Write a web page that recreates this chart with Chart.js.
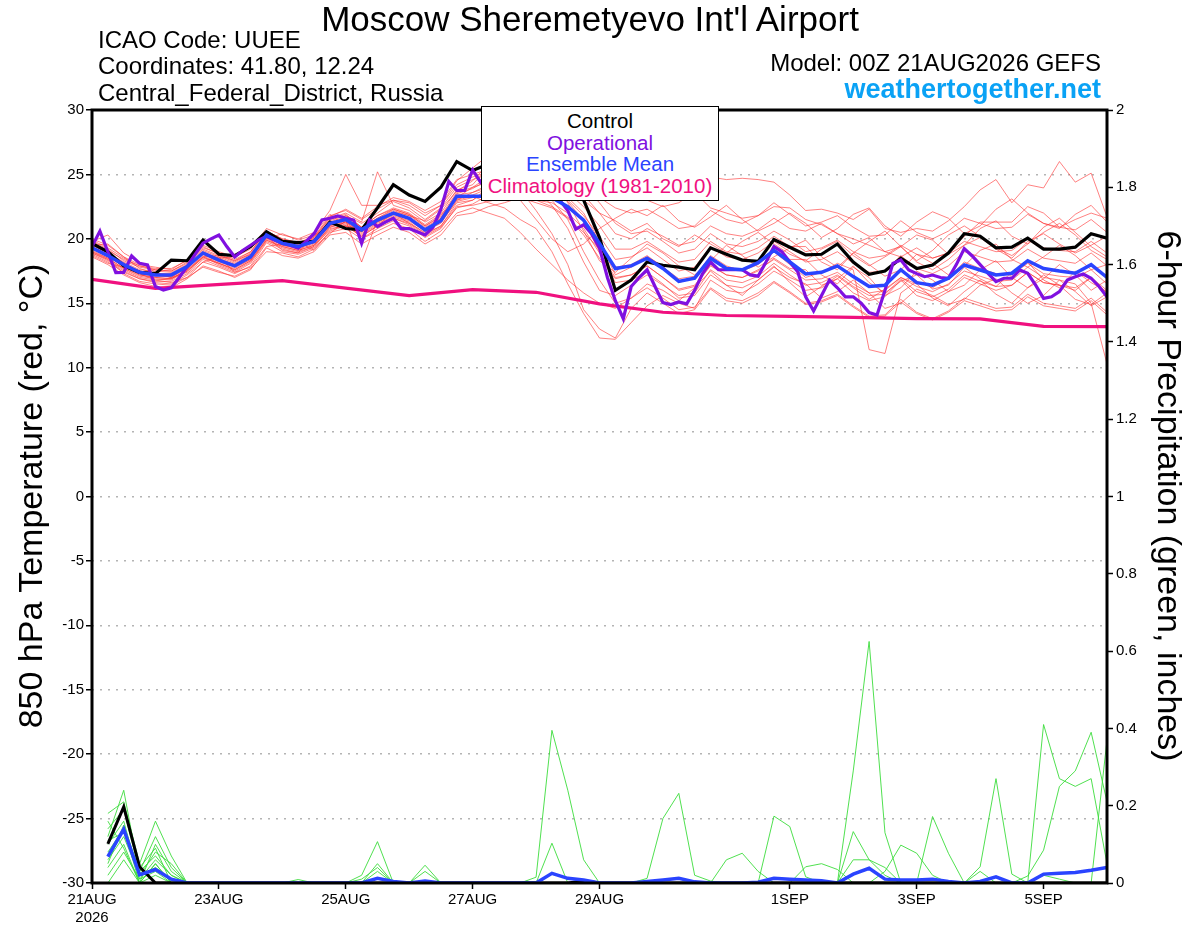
<!DOCTYPE html>
<html><head><meta charset="utf-8">
<script src="https://cdn.jsdelivr.net/npm/chart.js@4.4.1/dist/chart.umd.min.js"></script>
<style>
html,body{margin:0;padding:0;background:#fff;}
#wrap{position:relative;width:1200px;height:927px;overflow:hidden;font-family:"Liberation Sans",Arial,sans-serif;background:#fff;}
canvas{position:absolute;left:0;top:0;}
.t{position:absolute;white-space:nowrap;color:#000;}
#legend{position:absolute;left:481px;top:106px;width:236px;height:90px;border:1.5px solid #000;background:#fff;text-align:center;font-size:20.5px;line-height:21.6px;padding-top:3px;box-sizing:content-box;}
.rot{position:absolute;white-space:nowrap;text-align:center;font-size:34px;line-height:40px;height:40px;width:700px;}
</style></head>
<body><div id="wrap">
<canvas id="c" width="1200" height="927"></canvas>
<div class="t" style="left:0;width:1180px;top:0;text-align:center;font-size:35px;line-height:38px;">Moscow Sheremetyevo Int'l Airport</div>
<div class="t" style="left:98px;top:26px;font-size:24px;line-height:28px;">ICAO Code: UUEE</div>
<div class="t" style="left:98px;top:52px;font-size:24px;line-height:28px;">Coordinates: 41.80, 12.24</div>
<div class="t" style="left:98px;top:79px;font-size:24px;line-height:28px;">Central_Federal_District, Russia</div>
<div class="t" style="right:99px;top:49px;font-size:24px;line-height:28px;text-align:right;">Model: 00Z 21AUG2026 GEFS</div>
<div class="t" style="right:99px;top:74px;font-size:27px;line-height:30px;font-weight:bold;color:#0aa2f5;text-align:right;">weathertogether.net</div>
<div id="legend">
<div style="color:#000">Control</div>
<div style="color:#8010e0">Operational</div>
<div style="color:#2a44ff">Ensemble Mean</div>
<div style="color:#f0107f">Climatology (1981-2010)</div>
</div>
<div class="rot" style="left:-320px;top:476px;transform:rotate(-90deg);">850 hPa Temperature (red, °C)</div>
<div class="rot" style="left:820px;top:476px;transform:rotate(90deg);">6-hour Precipitation (green, inches)</div>
</div>
<script>
// ---------- DATA ----------
const HOURS6 = Array.from({length:65},(_,i)=>i*6);     // 0..384 h, 6-hourly
const HOURS3 = Array.from({length:129},(_,i)=>i*3);    // operational, 3-hourly
const TICK_HOURS  = [0,48,96,144,192,264,312,360];
const TICK_LABELS = ['21AUG','23AUG','25AUG','27AUG','29AUG','1SEP','3SEP','5SEP'];
const TICK_SUB    = ['2026','','','','','','',''];

const controlT = [19.65,19.0,17.9,17.4,17.3,18.35,18.3,19.9,18.8,18.7,
  19.4,20.55,19.8,19.7,19.8,21.3,20.8,20.7,22.4,24.2,
  23.4,22.9,24.0,26.0,25.3,25.8,26.0,26.2,25.8,25.2,
  24.3,23.0,20.1,16.0,16.8,18.2,17.95,17.8,17.6,19.3,
  18.8,18.35,18.25,19.95,19.35,18.75,18.8,19.6,18.2,17.25,
  17.5,18.5,17.7,17.97,18.9,20.4,20.2,19.3,19.35,20.05,
  19.2,19.2,19.35,20.4,20.05];
const meanT = [19.3,18.7,18.0,17.4,17.2,17.2,17.85,18.9,18.35,17.9,
  18.6,20.3,19.65,19.4,19.8,21.2,21.5,20.7,21.46,22.0,
  21.6,20.7,21.4,23.3,23.3,23.3,23.5,23.6,23.4,23.2,
  22.5,21.45,19.65,17.7,17.9,18.5,17.7,16.7,16.95,18.5,
  17.7,17.6,18.15,19.1,18.2,17.27,17.4,17.9,17.07,16.3,
  16.4,17.6,16.6,16.4,16.94,17.97,17.58,17.2,17.33,18.3,
  17.7,17.5,17.33,18.0,17.0];
const operT = [19.4,20.6,19.0,17.37,17.4,18.67,18.1,17.97,16.3,16.03,
  16.2,17.0,17.84,18.8,19.66,20.0,20.3,19.4,18.6,19.1,
  19.5,19.9,20.2,19.9,19.66,19.5,19.27,19.8,20.4,21.46,
  21.6,21.77,21.6,21.46,19.66,21.46,20.95,21.3,21.6,20.8,
  20.8,20.55,20.3,20.9,22.3,24.45,23.75,23.75,25.35,24.4,
  25.0,25.6,26.0,25.8,25.4,25.0,24.6,24.2,23.8,23.0,
  22.2,20.75,21.1,20.4,19.3,17.0,15.2,13.8,16.3,17.0,
  17.6,16.3,15.05,14.9,15.1,14.95,16.0,17.3,18.2,17.6,
  17.6,17.6,17.6,17.2,17.1,18.2,19.4,19.0,18.2,17.45,
  15.5,14.4,15.6,16.8,16.2,15.5,15.5,15.0,14.27,14.09,
  16.0,18.1,18.36,17.58,17.3,17.06,17.19,17.0,16.94,18.0,
  19.24,18.67,18.0,17.32,16.68,16.94,16.94,17.58,17.32,16.4,
  15.38,15.5,15.9,16.8,17.06,17.27,16.94,16.3,15.5];
const climHours = [0,24,72,120,144,168,192,216,240,264,288,312,336,360,384];
const climT = [16.85,16.15,16.75,15.6,16.05,15.85,14.95,14.3,14.05,13.98,13.9,13.8,13.78,13.2,13.18];

// ensemble members, 850 hPa temperature
const mem01 = [19.8,19.2,18.3,17.8,17.6,17.5,18.2,19.3,18.9,18.4,19.0,20.6,20.0,19.7,20.2,
  21.8,22.2,21.5,22.3,23.0,22.6,21.8,22.6,24.2,24.8,25.2,26.1,25.8,25.4,25.6,25.3,
  25.2,25.3,25.2,25.3,25.2,25.1,25.0,24.9,24.8,24.6,24.7,24.6,24.4,23.4,
  22.2,22.3,22.0,21.5,22.3,20.8,20.5,20.8,20.6,21.4,22.5,23.8,24.6,22.8,24.2,23.95,26.0,24.4,25.1,21.7];
const mem02 = [19.0,18.4,17.6,17.0,16.8,16.9,17.5,18.6,18.0,17.5,18.2,19.9,19.3,19.0,19.4,
  20.8,21.0,20.2,21.0,21.6,21.2,20.3,21.0,22.8,23.0,24.0,24.5,25.0,24.8,24.0,23.5,
  23.6,23.9,24.2,23.4,23.0,22.5,22.8,23.6,22.4,22.0,21.6,21.8,22.5,22.4,
  21.5,21.1,20.4,20.0,19.5,19.0,18.6,19.3,18.5,18.9,20.2,21.3,21.3,21.3,22.5,22.0,20.9,21.5,22.0,21.6];
const mem03 = [19.5,18.9,18.2,17.6,17.5,17.4,18.0,19.1,18.6,18.1,18.8,20.4,19.9,19.5,20.0,
  21.5,21.9,20.9,21.8,22.4,22.0,21.1,21.9,23.0,23.3,22.8,22.4,21.5,20.8,19.0,16.5,
  14.2,12.3,12.2,13.5,14.8,15.6,15.0,14.6,16.8,16.0,15.8,16.5,17.5,16.8,
  16.0,16.2,16.9,15.8,15.2,15.5,16.8,15.6,15.2,15.9,17.0,16.5,16.0,16.4,17.4,16.6,16.4,16.0,17.0,15.8];
const mem04 = [19.2,18.6,17.9,17.2,17.0,16.9,17.6,18.7,18.1,17.7,18.4,20.1,19.5,19.2,19.6,
  21.0,21.3,20.6,21.3,21.8,21.4,20.6,21.2,23.0,23.6,24.2,23.8,24.4,24.0,23.7,23.2,
  22.0,19.8,17.2,17.8,18.6,17.9,16.6,17.0,18.7,17.9,17.5,18.0,19.0,18.0,
  17.0,17.4,18.1,17.6,11.4,11.1,15.8,16.7,16.2,17.0,18.2,17.7,17.3,17.2,18.1,17.3,17.1,17.0,17.6,16.5];
const mem05 = [18.8,18.2,17.4,16.9,16.6,16.5,17.2,18.2,17.8,17.3,17.9,19.7,19.0,18.8,19.3,
  20.5,20.8,20.0,20.8,21.4,21.0,20.1,20.8,22.5,22.6,22.9,23.2,23.6,23.0,22.8,22.0,
  20.8,18.9,17.0,17.2,17.9,17.0,16.0,16.3,17.9,17.2,17.0,17.6,18.4,17.6,
  16.8,16.9,17.4,16.5,15.8,16.0,17.0,16.3,15.9,16.5,17.5,17.1,16.7,16.8,17.8,17.0,16.8,16.5,15.0,10.3];
const mem06 = [20.0,19.5,18.6,18.0,17.8,17.6,18.4,19.5,19.0,18.6,19.2,20.8,20.3,20.0,20.5,
  22.2,25.0,22.6,22.6,23.0,22.8,22.0,22.6,24.5,25.5,26.5,27.0,26.2,25.6,25.0,24.6,
  24.0,22.8,21.2,20.4,20.6,19.8,18.9,19.2,20.4,19.6,19.4,19.8,20.6,19.9,
  19.0,19.3,19.9,19.0,18.5,18.7,19.5,18.8,18.5,18.9,19.8,19.4,19.0,19.1,20.0,19.3,19.1,19.0,19.8,18.9];
const mem07 = [18.6,18.0,17.2,16.6,16.3,16.2,16.9,17.9,17.5,17.0,17.6,19.3,18.7,18.5,19.0,
  20.3,20.5,19.6,20.3,20.9,20.5,19.6,20.3,21.8,22.0,22.5,22.8,23.2,22.8,22.4,21.6,
  20.5,19.2,17.8,18.0,18.7,17.8,16.9,17.1,18.6,17.8,17.6,18.2,19.2,18.4,
  18.4,17.2,16.5,17.8,17.0,15.6,16.2,17.5,16.8,15.9,16.4,17.6,18.3,17.0,16.2,16.9,18.0,17.2,16.0,16.8];
const mem08 = [19.4,18.8,18.0,17.5,17.3,17.2,17.8,18.8,18.3,17.9,18.5,20.2,19.6,19.3,19.7,
  21.2,21.6,20.8,21.6,22.2,21.8,20.9,21.6,23.5,23.9,24.6,25.2,24.8,24.2,23.8,22.9,
  21.4,19.0,16.6,16.8,17.4,16.5,15.4,15.6,17.2,16.4,16.2,16.8,17.8,17.0,
  16.5,15.4,15.9,16.8,15.8,14.6,15.0,16.1,15.6,14.9,15.3,16.4,16.9,15.8,15.0,15.6,16.8,15.9,14.8,15.5];
const mem09 = [19.1,18.5,17.7,17.1,16.9,16.8,17.5,18.5,18.1,17.6,18.3,20.0,19.4,19.1,19.5,
  20.9,21.2,20.4,21.2,21.7,21.3,20.4,21.0,22.6,23.0,23.8,24.3,24.6,24.0,23.0,21.5,
  19.0,16.8,15.0,15.4,16.2,15.4,14.5,14.7,16.2,15.4,15.2,15.8,16.7,15.9,
  15.0,15.2,15.7,14.8,14.0,14.1,15.3,14.3,13.8,14.4,15.4,15.0,14.6,14.7,15.7,15.0,14.8,14.6,15.4,14.3];
const mem10 = [19.7,19.1,18.4,17.9,17.7,17.7,18.3,19.4,18.8,18.3,19.0,20.6,20.0,19.7,20.1,
  21.6,22.0,21.3,25.2,22.6,22.2,21.3,22.0,23.8,24.2,25.6,26.4,26.8,26.0,25.2,24.3,
  23.4,22.0,20.4,20.0,20.8,20.2,19.5,19.8,21.0,20.4,20.2,20.7,21.6,20.8,
  20.6,21.2,20.4,19.6,20.1,19.0,19.4,20.3,19.9,18.8,19.5,20.8,21.4,20.2,19.6,20.9,21.6,20.5,19.4,18.6];
const mem11 = [18.9,18.3,17.5,16.9,16.7,16.7,17.3,18.4,17.9,17.4,18.1,19.8,19.2,18.9,19.4,
  20.7,21.1,20.3,21.1,21.6,21.1,20.2,20.9,22.4,22.7,23.4,24.0,24.4,23.8,22.6,20.8,
  18.2,16.0,15.6,16.4,17.2,16.4,15.6,15.8,17.6,16.8,16.6,17.1,18.1,17.2,
  16.4,16.6,17.2,16.3,15.6,15.7,16.9,15.9,15.5,16.1,17.2,16.7,16.3,16.4,17.4,16.6,16.4,16.2,17.0,16.0];
const mem12 = [19.6,19.0,18.1,17.4,17.2,17.0,17.7,18.9,18.4,18.0,18.7,20.4,19.8,19.6,20.0,
  21.4,21.8,20.9,21.6,22.3,21.9,21.0,21.7,23.4,23.6,24.0,24.6,25.4,25.0,24.4,23.6,
  22.5,21.0,19.2,19.2,19.8,19.0,18.2,18.4,19.8,19.0,18.8,19.3,20.2,19.4,
  19.4,18.2,17.6,18.9,18.0,17.1,17.6,18.8,18.1,17.2,17.9,19.1,19.6,18.4,17.8,18.6,19.5,18.7,17.6,18.0];
const mem13 = [19.3,18.7,17.8,17.3,17.1,17.1,17.7,18.8,18.2,17.8,18.4,20.2,19.5,19.3,19.7,
  21.1,21.4,18.2,21.5,22.0,21.6,20.8,21.5,23.1,23.4,23.9,24.2,23.8,22.2,20.4,18.0,
  14.5,13.0,12.3,14.6,15.8,15.0,14.2,14.5,16.1,15.2,15.0,15.6,16.6,15.8,
  14.9,15.1,15.6,14.7,13.9,14.0,15.1,14.2,13.7,14.3,15.2,14.8,14.4,14.5,15.5,14.8,14.6,14.4,15.2,14.1];
const mem14 = [19.9,19.3,18.5,17.9,17.6,17.5,18.1,19.2,18.7,18.2,18.9,20.5,19.9,19.6,20.1,
  21.7,22.3,21.6,22.5,23.2,22.9,22.2,22.9,24.6,25.0,25.4,25.6,25.2,24.9,24.6,24.2,
  23.8,23.2,22.4,22.0,22.3,21.6,20.8,21.0,22.2,21.5,21.2,21.8,22.8,21.9,
  21.0,21.3,21.8,20.9,20.2,20.3,21.4,20.5,20.0,20.6,21.6,21.2,20.8,20.9,21.9,21.2,20.9,20.7,21.5,20.5];
const mem15 = [19.0,18.5,17.7,17.2,17.0,16.9,17.6,18.6,18.1,17.6,18.3,19.9,19.4,19.1,19.5,
  20.9,21.3,20.5,21.3,21.9,21.5,20.6,21.3,22.9,23.2,23.4,23.6,23.4,23.0,22.5,21.7,
  20.3,18.5,16.9,17.2,17.9,17.0,16.1,16.4,18.0,17.2,17.0,17.5,18.5,17.7,
  17.6,16.4,16.9,17.9,16.6,15.8,16.7,17.2,16.1,16.4,17.8,16.9,16.3,17.4,18.2,16.8,16.2,17.5,16.6,15.9];
const mem16 = [19.6,18.9,18.1,17.5,17.3,17.3,17.9,18.9,18.5,18.0,18.7,20.3,19.7,19.4,19.9,
  21.3,21.7,20.9,21.8,22.3,21.9,21.0,21.8,23.6,24.0,24.4,24.8,24.5,24.2,23.9,23.0,
  21.8,20.2,18.4,18.6,19.3,18.4,17.5,17.8,19.4,18.6,18.4,18.9,19.8,19.0,
  18.2,18.4,19.0,18.1,17.4,17.5,18.7,17.7,17.3,17.9,19.0,18.6,18.2,18.3,19.2,18.5,18.3,18.1,18.9,17.9];
const mem17 = [19.5,19.6,18.6,17.7,17.3,17.0,17.4,18.6,18.7,18.3,18.8,20.0,20.4,19.9,20.3,
  21.0,21.8,21.2,22.0,22.9,22.4,21.5,22.4,24.0,24.6,25.0,24.2,23.0,21.5,20.0,19.0,
  19.6,20.8,21.6,22.3,21.8,22.6,21.4,20.9,21.7,22.6,21.5,20.6,21.2,22.0,
  21.2,20.1,20.8,21.9,22.4,21.0,20.2,21.3,22.1,21.6,20.4,21.0,22.3,23.1,22.0,21.2,20.8,21.9,22.6,21.3];
const mem18 = [18.7,18.1,17.8,17.3,16.8,16.6,17.0,18.2,18.6,17.4,17.8,19.4,19.6,19.8,19.1,
  20.6,21.0,20.8,21.5,22.0,21.2,20.5,21.6,23.2,24.0,24.8,25.4,26.2,25.5,24.8,24.0,
  23.0,22.0,21.4,20.6,21.2,20.0,19.4,20.3,19.6,18.9,19.8,20.5,19.6,18.8,
  18.3,19.2,19.8,18.7,17.9,18.6,19.4,18.2,17.6,18.4,19.5,20.1,19.2,18.5,19.8,20.4,19.6,18.9,19.5,20.2];
const mem19 = [19.8,20.3,18.9,18.2,17.4,17.0,17.9,19.0,18.5,18.6,19.4,20.2,19.1,18.9,20.4,
  21.9,21.0,20.2,21.0,22.1,21.8,21.4,22.3,23.7,24.5,25.8,26.6,27.1,26.4,24.9,22.8,
  20.6,18.3,17.4,18.5,19.6,18.9,17.9,17.2,18.3,19.5,18.7,17.8,18.6,19.3,
  19.9,18.6,17.8,18.9,19.8,20.6,19.4,18.3,19.1,20.3,21.0,20.2,19.3,18.7,19.6,20.5,21.2,20.3,19.1,18.4];
const mem20 = [18.9,18.4,17.3,16.7,16.5,16.4,17.0,17.8,17.4,17.1,17.7,19.0,18.9,18.6,19.2,
  20.4,21.4,20.0,20.6,21.2,20.8,19.8,20.6,22.0,22.4,22.0,21.6,20.5,19.2,18.0,16.8,
  15.8,15.0,14.6,15.4,16.5,16.0,15.2,16.2,17.5,16.4,15.6,16.8,17.9,16.6,
  15.5,16.3,17.1,16.2,15.3,16.1,17.0,16.5,15.4,14.8,15.9,16.8,15.7,15.0,16.2,17.2,16.4,15.3,14.9,15.8];
const TEMP_MEMBERS = [mem01,mem02,mem03,mem04,mem05,mem06,mem07,mem08,mem09,mem10,
  mem11,mem12,mem13,mem14,mem15,mem16,mem17,mem18,mem19,mem20];

// 6-hour precipitation (inches)
const controlP = [null,0.101,0.197,0.042,0,0,0,0,0,0, 0,0,0,0,0,0,0,0,0,0, 0,0,0,0,0,0,0,0,0,0,
  0,0.005,0,0,0,0,0,0,0,0, 0,0,0,0,0,0,0,0,0,0, 0,0,0,0,0,0,0,0,0,0, 0,0,0,0,0];
const meanP = [null,0.068,0.139,0.021,0.035,0.01,0,0,0,0, 0,0,0,0,0,0,0,0,0.012,0.004,
  0,0.005,0,0,0,0,0,0,0,0.025, 0.012,0.008,0,0,0,0.004,0.008,0.012,0.003,0,
  0,0,0.002,0.012,0.01,0.008,0.006,0,0.023,0.038, 0.01,0.008,0.008,0.01,0.004,0,0.004,0.016,0,0,
  0.023,0.025,0.027,0.033,0.04];
const pcp01 = [null,0.18,0.21,0.05,0.16,0.07,0,0,0,0, 0,0,0,0,0,0,0,0.02,0.107,0, 0,0.046,0,0,0,0,0,0,0,0,
  0,0,0,0,0,0,0,0,0,0, 0,0,0,0,0,0,0,0,0,0, 0,0,0,0,0,0,0,0,0,0, 0.02,0.01,0,0,0];
const pcp02 = [null,0.14,0.19,0.03,0.12,0.04,0,0,0,0, 0,0,0,0,0,0,0,0,0.05,0, 0,0.03,0,0,0,0,0,0,0,0,
  0,0,0,0,0,0,0,0,0,0, 0,0,0,0,0,0,0,0,0,0, 0.03,0.098,0.077,0.02,0,0,0,0,0,0, 0,0,0,0,0];
const pcp03 = [null,0.12,0.24,0.02,0.08,0.05,0,0,0,0, 0,0,0,0,0,0,0,0.01,0.04,0, 0,0,0,0,0,0,0,0,0,0,
  0,0,0,0,0,0,0,0,0,0, 0,0,0,0,0,0,0,0,0.06,0.06, 0.04,0,0,0,0,0,0,0,0,0, 0,0,0,0,0];
const pcp04 = [null,0.10,0.16,0.01,0.06,0.02,0,0,0,0, 0,0,0,0,0,0,0,0,0.03,0, 0,0,0,0,0,0,0,0,0,0,
  0,0,0,0,0,0,0,0,0,0, 0,0,0,0,0,0,0,0,0,0, 0,0,0,0.172,0.077,0,0,0,0,0, 0,0,0,0,0];
const pcp05 = [null,0.08,0.14,0,0.10,0.03,0,0,0,0, 0,0,0,0,0,0,0,0,0,0, 0,0,0,0,0,0,0,0,0.015,0.395,
  0.24,0.06,0,0,0,0,0,0,0,0, 0,0,0,0,0,0,0,0,0,0, 0,0,0,0,0,0,0,0,0,0, 0.41,0.27,0.25,0.27,0.05];
const pcp06 = [null,0.06,0.12,0.02,0.04,0.01,0,0,0,0, 0,0,0,0,0,0,0,0,0,0, 0,0,0,0,0,0,0,0,0,0.103,
  0,0,0,0,0,0,0,0,0,0, 0,0,0,0,0,0,0,0,0,0, 0,0,0,0,0,0,0.042,0.27,0.023,0, 0,0,0,0,0];
const pcp07 = [null,0.04,0.10,0,0.05,0,0,0,0,0, 0,0,0,0,0,0,0,0,0,0, 0,0,0,0,0,0,0,0,0,0,
  0,0,0,0,0,0.012,0.167,0.232,0.02,0.005, 0,0,0,0,0,0,0,0,0,0, 0,0,0,0,0,0,0,0,0,0, 0,0,0,0,0.37];
const pcp08 = [null,0.02,0.08,0.01,0.03,0,0,0,0,0, 0,0,0,0,0,0,0,0,0,0, 0,0,0,0,0,0,0,0,0,0,
  0,0,0,0,0,0,0,0,0,0, 0.06,0.077,0.03,0,0,0,0,0,0,0, 0,0,0,0,0,0,0,0,0,0.018, 0.085,0.25,0.29,0.39,0.21];
const pcp09 = [null,0,0.06,0,0.02,0,0,0,0,0, 0,0,0,0,0,0,0,0,0,0, 0,0,0,0,0,0,0,0,0,0,
  0,0,0,0,0,0,0,0,0,0, 0,0,0,0.173,0.146,0.016,0,0,0,0, 0,0,0,0,0,0,0,0,0,0, 0,0,0,0,0];
const pcp10 = [null,0.05,0.15,0.03,0.07,0.02,0,0,0,0, 0,0,0,0.009,0,0,0,0,0,0, 0,0,0,0,0,0,0,0,0,0,
  0,0,0,0,0,0,0,0,0,0, 0,0,0,0,0,0.042,0.05,0.035,0,0, 0,0,0,0,0,0,0,0,0,0, 0,0,0,0,0];
const pcp11 = [null,0.11,0.13,0.04,0.09,0,0,0,0,0, 0,0,0,0,0,0,0,0,0,0, 0,0,0,0,0,0,0,0,0,0,
  0,0,0,0,0,0,0,0,0,0, 0,0,0,0,0,0,0,0,0.29,0.625, 0.13,0,0,0,0,0,0,0,0,0, 0,0,0,0,0];
const pcp12 = [null,0.16,0.09,0,0.05,0,0,0,0,0, 0,0,0,0,0,0,0,0,0,0, 0,0,0,0,0,0,0,0,0,0,
  0,0,0,0,0,0,0,0,0,0, 0,0,0,0,0,0,0,0,0.133,0.06, 0.02,0,0,0,0,0,0.03,0,0,0, 0,0,0,0,0];
const PCP_MEMBERS = [pcp01,pcp02,pcp03,pcp04,pcp05,pcp06,pcp07,pcp08,pcp09,pcp10,pcp11,pcp12];

// ---------- CHART ----------
const pts = (xs, ys) => ys.map((v,i)=>({x:xs[i], y:v}));
const FONT = '"Liberation Sans", Arial, sans-serif';
Chart.defaults.font.family = FONT;
Chart.defaults.color = '#000';

const datasets = [];
TEMP_MEMBERS.forEach(m => datasets.push({data:pts(HOURS6,m), yAxisID:'y', borderColor:'rgba(255,45,45,0.75)', borderWidth:0.8, order:10}));
PCP_MEMBERS.forEach(m => datasets.push({data:pts(HOURS6,m), yAxisID:'y2', borderColor:'#3cdc3c', borderWidth:0.9, order:9}));
datasets.push({data:pts(climHours,climT), yAxisID:'y', borderColor:'#f0107f', borderWidth:3.2, order:6});
datasets.push({data:pts(HOURS6,controlP), yAxisID:'y2', borderColor:'#000', borderWidth:3, order:5});
datasets.push({data:pts(HOURS6,meanP), yAxisID:'y2', borderColor:'#2a44ff', borderWidth:3.5, order:4});
datasets.push({data:pts(HOURS6,controlT), yAxisID:'y', borderColor:'#000', borderWidth:3.2, order:3});
datasets.push({data:pts(HOURS3,operT), yAxisID:'y', borderColor:'#8010e0', borderWidth:3.2, order:2});
datasets.push({data:pts(HOURS6,meanT), yAxisID:'y', borderColor:'#2a44ff', borderWidth:3.5, order:1});
datasets.forEach(d => { d.pointRadius = 0; d.tension = 0; d.fill = false; });

const frame = {id:'frame', afterDatasetsDraw(c){
  const {ctx, chartArea:a} = c;
  ctx.save(); ctx.strokeStyle = '#000'; ctx.lineWidth = 3;
  ctx.strokeRect(a.left, a.top, a.right-a.left, a.bottom-a.top);
  ctx.restore();
}};

new Chart(document.getElementById('c'), {
  type:'line',
  data:{datasets},
  plugins:[frame],
  options:{
    responsive:false, animation:false,
    layout:{padding:{top:110,left:0,right:0,bottom:0}},
    plugins:{legend:{display:false}, tooltip:{enabled:false}},
    scales:{
      x:{type:'linear', min:0, max:384, position:'bottom',
        afterFit(s){ s.height = 44; },
        afterBuildTicks(s){ s.ticks = TICK_HOURS.map(v=>({value:v})); },
        ticks:{autoSkip:false, maxRotation:0, padding:2, font:{size:15}, color:'#000',
          callback(v){ const i = TICK_HOURS.indexOf(v); if(i<0) return ''; return TICK_SUB[i] ? [TICK_LABELS[i], TICK_SUB[i]] : TICK_LABELS[i]; }},
        grid:{drawOnChartArea:false, tickLength:6, tickColor:'#000', tickWidth:1.5},
        border:{display:false}},
      y:{type:'linear', position:'left', min:-30, max:30,
        afterFit(s){ s.width = 92; },
        ticks:{stepSize:5, padding:2, font:{size:15}, color:'#000'},
        grid:{drawOnChartArea:true, color:'#b4b4b4', lineWidth:1.5, tickLength:6, tickColor:'#000', tickWidth:1.5, tickBorderDash:[]},
        border:{display:false, dash:[2,6]}},
      y2:{type:'linear', position:'right', min:0, max:2,
        afterFit(s){ s.width = 93; },
        ticks:{stepSize:0.2, padding:3, font:{size:15}, color:'#000',
          callback(v){ return String(+v.toFixed(1)); }},
        grid:{drawOnChartArea:false, tickLength:6, tickColor:'#000', tickWidth:1.5},
        border:{display:false}}
    }
  }
});
</script>
</body></html>
